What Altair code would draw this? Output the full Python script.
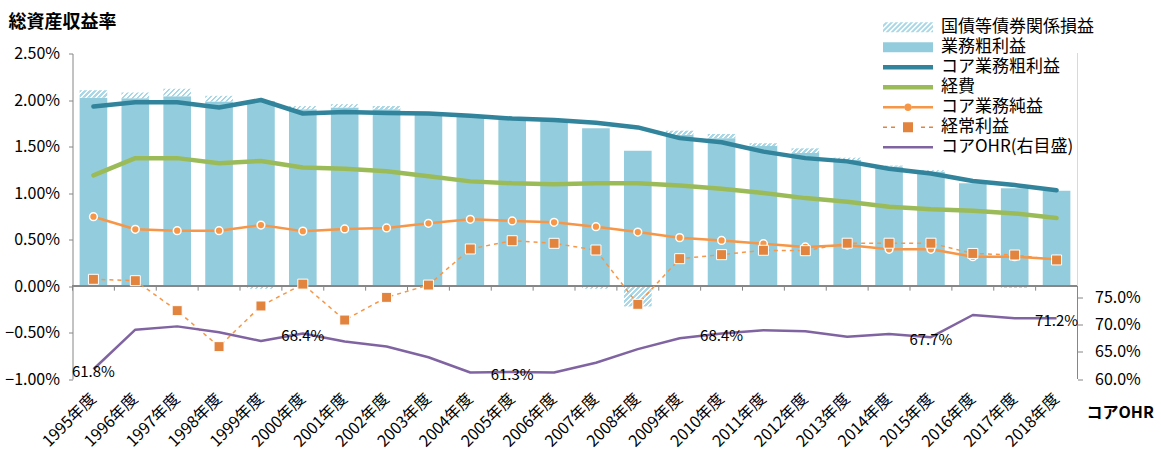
import math

import altair as alt
import pandas as pd

# ---- data (percent of total assets; OHR in percent) ----
years = [f"{y}年度" for y in range(1995, 2019)]

gross_profit = [2.025, 2.02, 2.04, 1.985, 1.99, 1.90, 1.92, 1.90, 1.87, 1.84, 1.81, 1.795,
                1.695, 1.455, 1.625, 1.59, 1.505, 1.43, 1.355, 1.285, 1.23, 1.105, 1.05, 1.025]
bond_gains = [0.08, 0.06, 0.08, 0.06, -0.03, 0.035, 0.035, 0.035, 0.0, 0.0, 0.0, 0.0,
              -0.03, -0.22, 0.045, 0.045, 0.03, 0.05, 0.025, 0.01, 0.015, 0.0, -0.02, 0.0]
core_gross = [1.93, 1.975, 1.975, 1.92, 2.00, 1.855, 1.87, 1.86, 1.855, 1.83, 1.80, 1.785,
              1.755, 1.705, 1.59, 1.545, 1.445, 1.375, 1.34, 1.26, 1.21, 1.13, 1.085, 1.03]
expenses = [1.19, 1.375, 1.375, 1.32, 1.345, 1.275, 1.26, 1.235, 1.18, 1.125, 1.105, 1.095,
            1.105, 1.105, 1.08, 1.045, 1.00, 0.945, 0.907, 0.853, 0.824, 0.81, 0.78, 0.73]
core_net = [0.745, 0.61, 0.595, 0.595, 0.655, 0.59, 0.613, 0.624, 0.674, 0.717, 0.70, 0.685,
            0.638, 0.58, 0.52, 0.49, 0.455, 0.42, 0.44, 0.395, 0.395, 0.315, 0.315, 0.287]
ordinary = [0.072, 0.057, -0.265, -0.652, -0.215, 0.02, -0.366, -0.122, 0.01, 0.398, 0.487, 0.459,
            0.387, -0.197, 0.294, 0.337, 0.384, 0.38, 0.46, 0.46, 0.46, 0.35, 0.333, 0.28]
core_ohr = [61.8, 69.1, 69.7, 68.6, 67.0, 68.4, 66.9, 66.0, 64.0, 61.2, 61.3, 61.2,
            63.0, 65.5, 67.5, 68.4, 69.0, 68.8, 67.8, 68.3, 67.7, 71.8, 71.2, 71.2]
ohr_label_years = ["1995年度", "2000年度", "2005年度", "2010年度", "2015年度", "2018年度"]

series = ["国債等債券関係損益", "業務粗利益", "コア業務粗利益", "経費",
          "コア業務純益", "経常利益", "コアOHR(右目盛)"]

# ---- styling ----
FONT = "Noto Sans CJK JP"
W, H = 1005, 325.5
Y_DOMAIN = [-1.0, 2.5]
R_DOMAIN = [60, 120]
PX_PER_PT = H / (Y_DOMAIN[1] - Y_DOMAIN[0])
BAR_BAND = 0.66
BAR_PX = W / len(years) * BAR_BAND
AXIS_GREY = "#868686"

C_BAR = "#93cddd"
C_HATCH = "#a8d7e7"
C_TEAL = "#31849b"
C_GREEN = "#9bbb59"
C_ORANGE = "#f79646"
C_SQUARE = "#e2843e"
C_PURPLE = "#8064a2"


def hatch_fill(h_px, w_px, period=5.0):
    """Diagonal '/' stripes as a hard-stop linear gradient over the bar's box."""
    s = h_px / w_px
    c = (1 + s) / (1 + s * s)
    n = (w_px + h_px) / period
    stops = []
    k = 0
    while k / n < 1:
        a, m, e = k / n, min((k + 0.5) / n, 1), min((k + 1) / n, 1)
        stops += [alt.GradientStop(offset=a, color=C_HATCH),
                  alt.GradientStop(offset=m, color=C_HATCH),
                  alt.GradientStop(offset=m, color="white"),
                  alt.GradientStop(offset=e, color="white")]
        k += 1
    return alt.LinearGradient(gradient="linear", stops=stops, x1=0, y1=0, x2=c, y2=c * s)


# ---- legend symbol paths (unit square [-1,1], 25 px per unit) ----
def rect_path(x0, x1, y0, y1):
    return f"M{x0:.3f},{y0:.3f}H{x1:.3f}V{y1:.3f}H{x0:.3f}Z"


def clip_poly(poly, a, b, c):
    out = []
    for i in range(len(poly)):
        p, q = poly[i], poly[(i + 1) % len(poly)]
        fp = a * p[0] + b * p[1] - c
        fq = a * q[0] + b * q[1] - c
        if fp <= 0:
            out.append(p)
        if fp * fq < 0:
            t = fp / (fp - fq)
            out.append((p[0] + t * (q[0] - p[0]), p[1] + t * (q[1] - p[1])))
    return out


def hatch_path():
    box = [(-1, -0.2), (1, -0.2), (1, 0.2), (-1, 0.2)]
    parts = []
    a = -1.3
    while a < 1.2:
        poly = clip_poly(box, -1, -1, -a)
        poly = clip_poly(poly, 1, 1, a + 0.11)
        if len(poly) >= 3:
            parts.append("M" + "L".join(f"{x:.3f},{y:.3f}" for x, y in poly) + "Z")
        a += 0.2
    return "".join(parts)


def circle_path(r):
    return f"M{r},0A{r},{r} 0 1,1 {-r},0A{r},{r} 0 1,1 {r},0Z"


r_c = 0.15
legend_shapes = [
    hatch_path(),
    rect_path(-1, 1, -0.2, 0.2),
    rect_path(-1, 1, -0.09, 0.09),
    rect_path(-1, 1, -0.09, 0.09),
    rect_path(-1, -r_c, -0.05, 0.05) + rect_path(r_c, 1, -0.05, 0.05) + circle_path(r_c),
    rect_path(-1, -0.84, -0.03, 0.03) + rect_path(-0.68, -0.52, -0.03, 0.03)
    + rect_path(-0.2, 0.2, -0.2, 0.2)
    + rect_path(0.52, 0.68, -0.03, 0.03) + rect_path(0.84, 1, -0.03, 0.03),
    rect_path(-1, 1, -0.05, 0.05),
]
legend_colors = [C_HATCH, C_BAR, C_TEAL, C_GREEN, C_ORANGE, C_SQUARE, C_PURPLE]

# ---- tables ----
df = pd.DataFrame({
    "year": years, "gross": gross_profit, "core_gross": core_gross, "expenses": expenses,
    "core_net": core_net, "ordinary": ordinary, "ohr": core_ohr,
})
df["ohr_label"] = [f"{v:.1f}%" for v in core_ohr]
legend_df = pd.DataFrame({"series": series})

# ---- shared encodings ----
x_scale = alt.Scale(domain=years, paddingInner=0, paddingOuter=0)
x_axis = alt.Axis(title=None, labelAngle=-45, labelAlign="right", labelBaseline="middle",
                  labelPadding=17, labelFontSize=16, labelColor="black", labelFont=FONT,
                  labelOverlap=False, domain=False, ticks=False, tickSize=0, grid=False)
X = alt.X("year:N", scale=x_scale, axis=x_axis)

y_scale = alt.Scale(domain=Y_DOMAIN, nice=False, zero=False)
y_axis = alt.Axis(title="総資産収益率", titleAngle=0, titleX=-64.5, titleY=-31.5,
                  titleAlign="left", titleBaseline="middle", titleFont=FONT,
                  titleFontSize=18, titleFontWeight="bold", titleColor="black",
                  values=[-1, -0.5, 0, 0.5, 1, 1.5, 2, 2.5],
                  labelExpr="format(datum.value, '.2f') + '%'",
                  labelFontSize=16, labelColor="black", labelFont=FONT, labelPadding=9,
                  domainColor=AXIS_GREY, tickColor=AXIS_GREY, tickSize=4, grid=False)


def Y(field):
    return alt.Y(f"{field}:Q", scale=y_scale, axis=y_axis)


base = alt.Chart(df)

bars = base.mark_bar(width=alt.RelativeBandSize(BAR_BAND), color=C_BAR).encode(
    x=X, y=Y("gross"), y2=alt.datum(0))

hatch_layers = []
for yr, top, g in zip(years, gross_profit, bond_gains):
    if g == 0:
        continue
    lo = top if g > 0 else 0.0
    seg = pd.DataFrame({"year": [yr], "lo": [lo], "hi": [lo + g]})
    hatch_layers.append(
        alt.Chart(seg).mark_bar(width=alt.RelativeBandSize(BAR_BAND),
                                fill=hatch_fill(abs(g) * PX_PER_PT, BAR_PX)).encode(
            x=X, y=Y("lo"), y2="hi:Q"))

zero_line = base.mark_rule(color=AXIS_GREY, strokeWidth=1).encode(
    x=alt.value(0), x2=alt.value(W), y=alt.datum(0))
zero_ticks = base.mark_rule(color=AXIS_GREY, strokeWidth=1).encode(
    x=alt.X("year:N", scale=x_scale, axis=x_axis, bandPosition=0),
    y=alt.datum(0), y2=alt.datum(-0.05))
right_low = base.mark_rule(color=AXIS_GREY, strokeWidth=1).encode(
    x=alt.value(W), y=alt.datum(-1), y2=alt.datum(0))
right_high = base.mark_rule(color="#d9d9d9", strokeWidth=1).encode(
    x=alt.value(W), y=alt.datum(0), y2=alt.datum(2.5))

line_teal = base.mark_line(color=C_TEAL, strokeWidth=4.5, strokeCap="round",
                           strokeJoin="round").encode(x=X, y=Y("core_gross"))
line_green = base.mark_line(color=C_GREEN, strokeWidth=4.5, strokeCap="round",
                            strokeJoin="round").encode(x=X, y=Y("expenses"))
line_net = base.mark_line(color=C_ORANGE, strokeWidth=2.5, strokeJoin="round").encode(
    x=X, y=Y("core_net"))
dots_net = base.mark_point(filled=True, shape="circle", size=60, color=C_ORANGE,
                           stroke="white", strokeWidth=1.5, opacity=1).encode(
    x=X, y=Y("core_net"))
line_ord = base.mark_line(color=C_ORANGE, strokeWidth=1.5, strokeDash=[4, 4]).encode(
    x=X, y=Y("ordinary"))
sq_ord = base.mark_point(filled=True, shape="square", size=100, color=C_SQUARE,
                         stroke="white", strokeWidth=1, opacity=1).encode(
    x=X, y=Y("ordinary"))

legend = alt.Legend(orient="none", legendX=810.5, legendY=-36, title=None,
                    labelFont=FONT, labelFontSize=17, labelColor="black", labelLimit=400,
                    labelOffset=8, clipHeight=19.7, rowPadding=0, padding=0,
                    symbolSize=2500, symbolStrokeWidth=0, symbolOpacity=1)
legend_layer = alt.Chart(legend_df).mark_point(filled=True, size=2500, clip=True,
                                                strokeWidth=0).encode(
    x=alt.value(0), y=alt.value(3000),
    fill=alt.Fill("series:N", scale=alt.Scale(domain=series, range=legend_colors),
                  legend=legend),
    shape=alt.Shape("series:N", scale=alt.Scale(domain=series, range=legend_shapes),
                    legend=legend),
)

left = alt.layer(bars, *hatch_layers, zero_line, zero_ticks, right_low, right_high,
                 line_teal, line_green, line_net, dots_net, line_ord, sq_ord, legend_layer)

# ---- right axis: core OHR ----
r_axis = alt.Axis(orient="right", title="コアOHR", titleAngle=0, titleX=8.5, titleY=358.5,
                  titleAlign="left", titleBaseline="middle", titleFont=FONT,
                  titleFontSize=16, titleFontWeight="bold", titleColor="black",
                  values=[60, 65, 70, 75], labelExpr="format(datum.value, '.1f') + '%'",
                  labelFontSize=16, labelColor="black", labelFont=FONT, labelPadding=12,
                  domain=False, tickColor=AXIS_GREY, tickSize=5, grid=False)
R = alt.Y("ohr:Q", scale=alt.Scale(domain=R_DOMAIN, nice=False, zero=False), axis=r_axis)

line_ohr = base.mark_line(color=C_PURPLE, strokeWidth=2.5, strokeJoin="round").encode(x=X, y=R)
ohr_text = base.mark_text(font=FONT, fontSize=15, color="black", dy=3).encode(
    x=X, y=R, text="ohr_label:N").transform_filter(
    alt.FieldOneOfPredicate(field="year", oneOf=ohr_label_years))

right = alt.layer(line_ohr, ohr_text)

chart = alt.layer(left, right).resolve_scale(y="independent").properties(
    width=W, height=H,
    padding={"left": 72.5, "top": 53.5, "right": 1161 - 72.5 - W, "bottom": 455 - 53.5 - H},
    autosize=alt.AutoSizeParams(type="none"),
).configure(font=FONT).configure_view(stroke=None)

chart.save("out.html", embed_options={"renderer": "svg", "actions": False})
